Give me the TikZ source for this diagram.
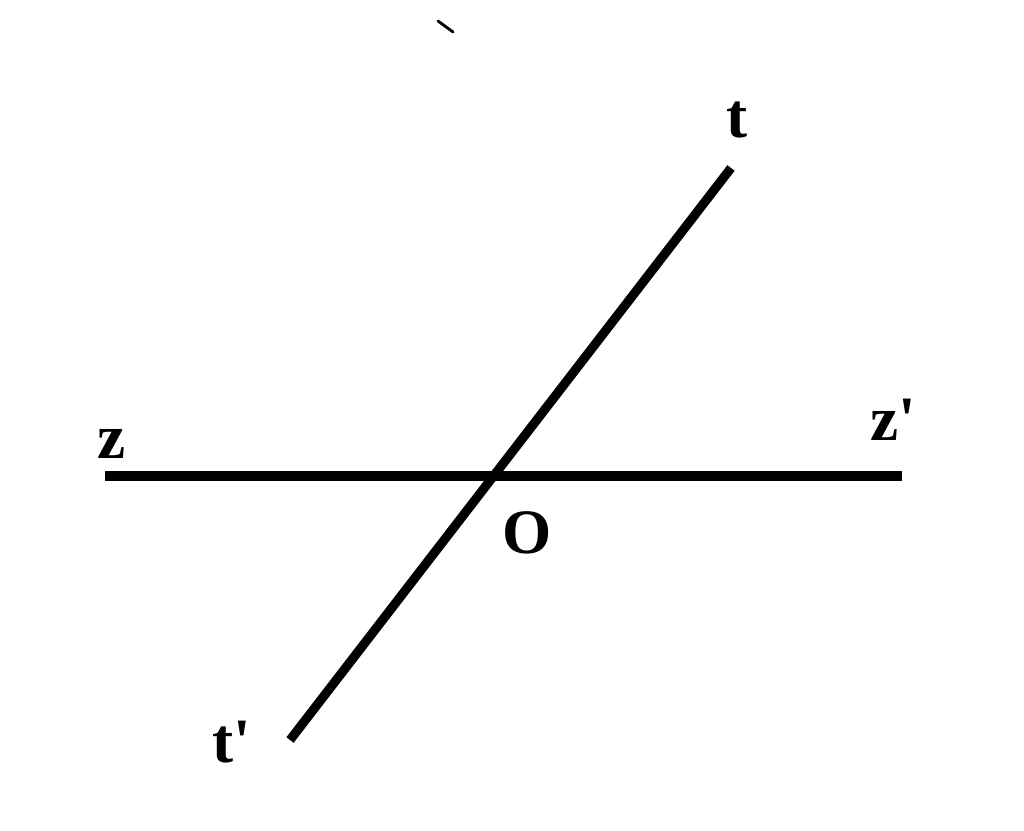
\documentclass[tikz,border=0pt]{standalone}
\usepackage{fontspec}
\setmainfont{Liberation Serif}
\usepackage{tikz}

\begin{document}
\begin{tikzpicture}[x=0.02cm, y=-0.02cm, every path/.style={line width=5.2pt},
    lbl/.style={anchor=base, inner sep=0pt, font=\fontsize{36}{40}\selectfont\bfseries}]
    \useasboundingbox (0, 0) rectangle (1024, 831);

    \coordinate (z-end) at (105, 476);
    \coordinate (z'-end) at (902, 476);
    \coordinate (t-end) at (731, 168);
    \coordinate (t'-end) at (290, 740);
    \coordinate (tick-a) at (438, 21);
    \coordinate (tick-b) at (453, 32);

    \node (z) [lbl, at={(112, 458)}] {z};
    \node (z') [lbl, at={(893, 440)}] {z\textquotesingle};
    \node (t) [lbl, at={(737, 138)}] {t};
    \node (t') [lbl, at={(232, 762)}] {t\textquotesingle};
    \node (o) [lbl, at={(527, 553)}] {O};

    \draw (z-end) -- (z'-end);
    \draw (t'-end) -- (t-end);
    \draw [line width=1.6pt, line cap=round] (tick-a) -- (tick-b);
\end{tikzpicture}
\end{document}
